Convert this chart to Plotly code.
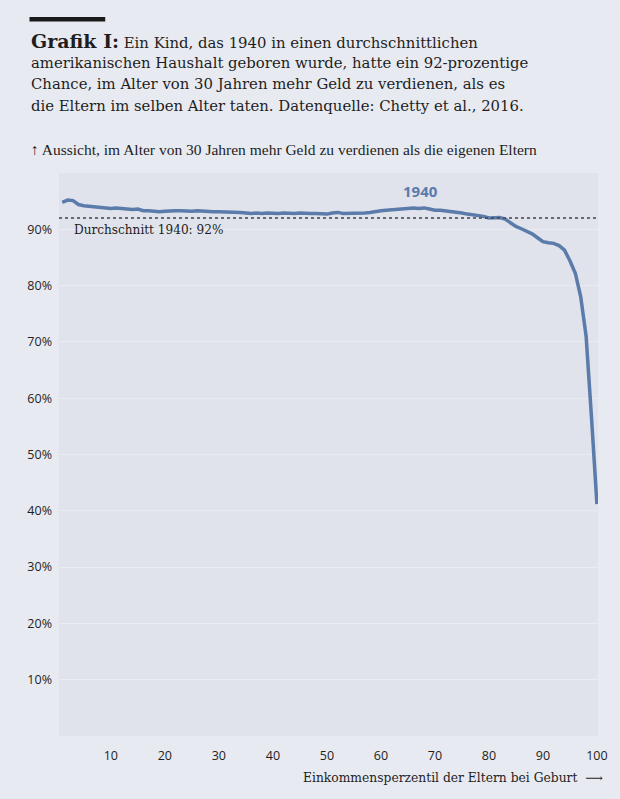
import plotly.graph_objects as go

# Perzentil des Elterneinkommens (1-100) und Anteil der Kinder mit höherem Einkommen (%)
perzentile = list(range(1, 101))
anteil_1940 = [
    94.8, 95.2, 95.1, 94.4, 94.2, 94.1, 94.0, 94.0, 93.8, 93.7,
    93.8, 93.7, 93.7, 93.5, 93.6, 93.3, 93.3, 93.2, 93.1, 93.2,
    93.3, 93.3, 93.3, 93.2, 93.2, 93.3, 93.2, 93.1, 93.1, 93.1,
    93.1, 93.0, 93.0, 93.0, 92.9, 92.8, 92.9, 92.8, 92.9, 92.8,
    92.8, 92.9, 92.8, 92.8, 92.9, 92.8, 92.8, 92.8, 92.7, 92.7,
    92.9, 93.0, 92.8, 92.8, 92.8, 92.8, 92.9, 93.0, 93.2, 93.3,
    93.4, 93.5, 93.6, 93.7, 93.8, 93.8, 93.7, 93.8, 93.6, 93.4,
    93.4, 93.3, 93.2, 93.0, 92.9, 92.7, 92.6, 92.5, 92.3, 92.0,
    92.0, 92.1, 91.8, 91.2, 90.5, 90.1, 89.7, 89.2, 88.5, 87.8,
    87.6, 87.5, 87.1, 86.3, 84.4, 82.2, 78.0, 71.0, 56.5, 41.2,
]
durchschnitt = 92
x_ticks = [10, 20, 30, 40, 50, 60, 70, 80, 90, 100]
y_ticks = [10, 20, 30, 40, 50, 60, 70, 80, 90]

titel_zeilen = [
    "<b><span style='font-size:19px'>Grafik I:</span></b> Ein Kind, das 1940 in einen durchschnittlichen",
    "amerikanischen Haushalt geboren wurde, hatte ein 92-prozentige",
    "Chance, im Alter von 30 Jahren mehr Geld zu verdienen, als es",
    "die Eltern im selben Alter taten. Datenquelle: Chetty et al., 2016.",
]

paper_bg = "#e8eaf1"
plot_bg = "#e0e3eb"
blau = "#5b7bab"
dunkel = "#1e1e1e"

# Plotfläche in Pixeln: links 59, rechts 607, oben 173, unten 736
def px(x):
    return (x - 59) / 548

def py(y):
    return (736 - y) / 563

fig = go.Figure()

fig.add_trace(go.Scatter(
    x=perzentile, y=anteil_1940, mode="lines",
    line=dict(color=blau, width=3.5),
    hoverinfo="x+y", showlegend=False,
))

# gepunktete Durchschnittslinie
fig.add_hline(y=durchschnitt, line=dict(color="#444444", width=1.6, dash="dot"))

fig.add_annotation(x=2.8, y=durchschnitt, yshift=-12, text=f"Durchschnitt 1940: {durchschnitt}%",
                   showarrow=False, xanchor="left", yanchor="middle",
                   font=dict(family="DejaVu Serif", size=12.1, color=dunkel))
fig.add_annotation(x=67.4, y=93.8, yshift=17, text="<b>1940</b>", showarrow=False,
                   font=dict(family="Open Sans", size=15, color=blau))

# Titelbalken und Text
fig.add_shape(type="rect", xref="paper", yref="paper",
              x0=px(29), x1=px(106), y0=py(21.5), y1=py(17),
              fillcolor="#1a1a1a", line_width=0)

for i, zeile in enumerate(titel_zeilen):
    fig.add_annotation(xref="paper", yref="paper", x=px(28), y=py(41 + i * 21.7),
                       text=zeile, showarrow=False, xanchor="left", yanchor="middle",
                       align="left", font=dict(family="DejaVu Serif", size=14.85, color=dunkel))

fig.add_annotation(xref="paper", yref="paper", x=px(28), y=py(150),
                   text="↑ Aussicht, im Alter von 30 Jahren mehr Geld zu verdienen als die eigenen Eltern",
                   showarrow=False, xanchor="left", yanchor="middle",
                   font=dict(family="Liberation Serif", size=15.5, color=dunkel))

fig.add_annotation(xref="paper", yref="paper", x=px(614), y=py(778),
                   text="Einkommensperzentil der Eltern bei Geburt  ⟶",
                   showarrow=False, xanchor="right", yanchor="middle",
                   font=dict(family="DejaVu Serif", size=12.3, color=dunkel))

fig.update_xaxes(range=[0.4, 100.2], tickvals=x_ticks, showgrid=False, zeroline=False,
                 showline=False, ticks="", ticklabelstandoff=10,
                 tickfont=dict(family="Open Sans", size=12.5, color=dunkel))
fig.update_yaxes(range=[0, 100], tickvals=y_ticks, ticktext=[f"{v}%" for v in y_ticks],
                 showgrid=True, gridcolor="#eaecf2", gridwidth=1, zeroline=False,
                 showline=False, ticks="", ticklabelstandoff=6,
                 tickfont=dict(family="Open Sans", size=12.5, color=dunkel))

fig.update_layout(
    width=620, height=799,
    margin=dict(l=59, r=13, t=173, b=63),
    paper_bgcolor=paper_bg, plot_bgcolor=plot_bg,
)

# Seitenrand des Browsers entfernen, damit die Grafik bündig bei 0,0 sitzt
fig.write_html("out.html", config={"displayModeBar": False},
               post_script="document.body.style.margin='0';"
               "document.body.style.overflow='hidden';")
